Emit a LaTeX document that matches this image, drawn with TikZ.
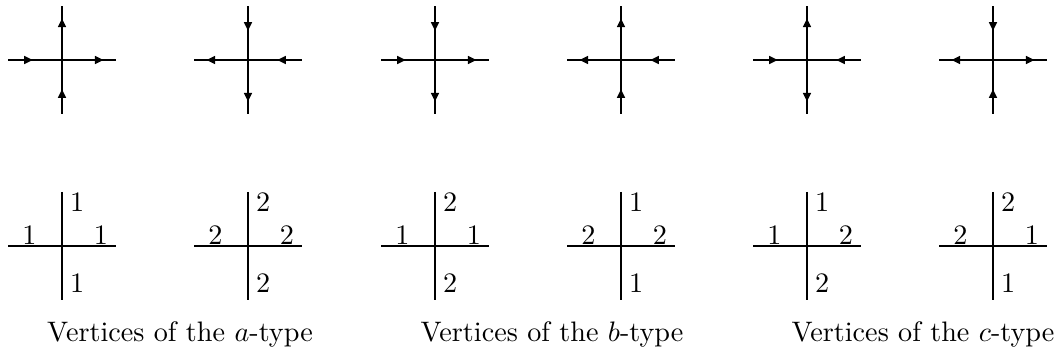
\documentclass[tikz,border=0pt]{standalone}
\usepackage{amsmath,amssymb}
\usepackage{tikz}
\usetikzlibrary{arrows.meta,decorations.markings}

\begin{document}
\begin{tikzpicture}[x=0.3885pt,y=-0.3885pt,
  font=\fontsize{10.95}{13.6}\selectfont,
  arm/.style={line width=0.9pt},
  outward/.style={arm,postaction={decorate},decoration={markings,
    mark=at position 0.77 with {\arrow{Triangle[length=3.4pt,width=3pt]}}}},
  inward/.style={arm,postaction={decorate},decoration={markings,
    mark=at position 0.54 with {\arrowreversed{Triangle[length=3.4pt,width=3pt]}}}},
  num/.style={inner sep=0pt}]
  \useasboundingbox (0,0) rectangle (1063,356);
  % arrow configurations
  \foreach \cx/\W/\E/\N/\S [count=\i] in {
      62/inward/outward/outward/inward,
      248/outward/inward/inward/outward,
      435/inward/outward/inward/outward,
      621/outward/inward/outward/inward,
      807/inward/inward/outward/outward,
      993/outward/outward/inward/inward} {
    \coordinate (v\i) at (\cx,60);
    \draw[\W] (v\i) -- ++(-54,0);
    \draw[\E] (v\i) -- ++(54,0);
    \draw[\N] (v\i) -- ++(0,-54);
    \draw[\S] (v\i) -- ++(0,54);
  }
  % height configurations
  \foreach \cx/\W/\E/\N/\S [count=\i] in {
      62/1/1/1/1, 248/2/2/2/2, 435/1/1/2/2,
      621/2/2/1/1, 807/1/2/1/2, 993/2/1/2/1} {
    \coordinate (w\i) at (\cx,246);
    \draw[arm] ([xshift=-54*0.3885pt]w\i) -- ([xshift=54*0.3885pt]w\i);
    \draw[arm] ([yshift=54*0.3885pt]w\i) -- ([yshift=-54*0.3885pt]w\i);
    \node[num,anchor=base] (wl\i) at ([shift={(-32.5,-1.5)}]w\i) {\W};
    \node[num,anchor=base] (el\i) at ([shift={(39,-1.5)}]w\i) {\E};
    \node[num,anchor=base west] (nl\i) at ([shift={(7.5,-34)}]w\i) {\N};
    \node[num,anchor=base west] (sl\i) at ([shift={(7.5,47)}]w\i) {\S};
  }
  \node[anchor=base] (capa) at (180,341) {Vertices of the $a$-type};
  \node[anchor=base] (capb) at (552,341) {Vertices of the $b$-type};
  \node[anchor=base] (capc) at (923,341) {Vertices of the $c$-type};
\end{tikzpicture}
\end{document}
